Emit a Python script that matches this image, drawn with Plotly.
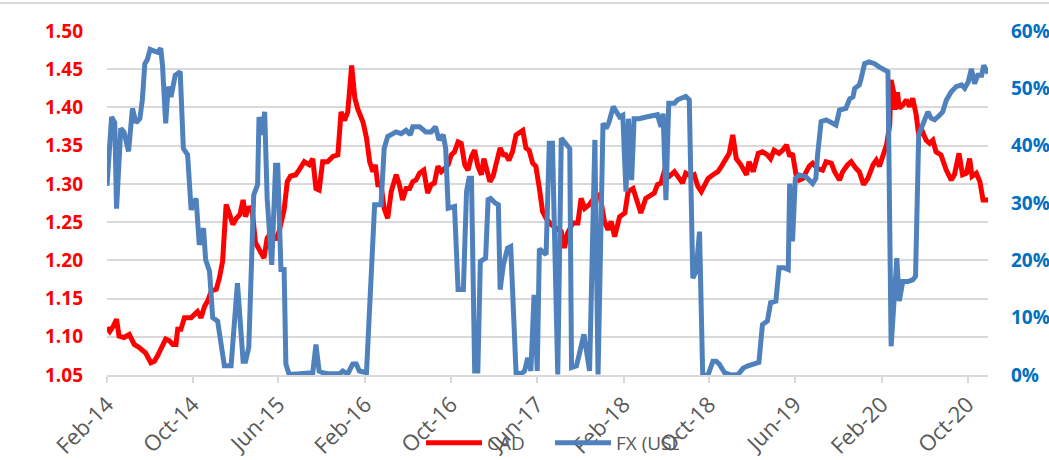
import plotly.graph_objects as go

# ---------------- data ----------------
cad_dates = [
    "2014-02-01","2014-02-09","2014-02-19","2014-02-28","2014-03-07","2014-03-21","2014-04-05","2014-04-19",
    "2014-05-03","2014-05-12","2014-05-21","2014-06-05","2014-06-15","2014-06-24","2014-07-08","2014-07-17",
    "2014-07-27","2014-08-06","2014-08-15","2014-08-20","2014-08-29","2014-09-08","2014-09-27","2014-10-06",
    "2014-10-15","2014-10-25","2014-11-04","2014-11-13","2014-11-23","2014-12-07","2014-12-16","2014-12-25",
    "2015-01-04","2015-01-14","2015-01-23","2015-02-02","2015-02-12","2015-02-21","2015-02-28","2015-03-09",
    "2015-03-19","2015-03-28","2015-04-07","2015-04-21","2015-04-30","2015-05-10","2015-05-24","2015-06-03",
    "2015-06-17","2015-06-26","2015-07-05","2015-07-20","2015-07-29","2015-08-13","2015-08-27","2015-09-06",
    "2015-09-15","2015-09-24","2015-10-04","2015-10-18","2015-11-02","2015-11-16","2015-11-25","2015-12-05",
    "2015-12-14","2015-12-25","2016-01-03","2016-01-12","2016-01-26","2016-02-05","2016-02-14","2016-02-23",
    "2016-03-01","2016-03-08","2016-03-17","2016-03-26","2016-04-05","2016-04-15","2016-04-29","2016-05-08",
    "2016-05-17","2016-05-27","2016-06-06","2016-06-15","2016-06-24","2016-07-04","2016-07-16","2016-07-27",
    "2016-08-06","2016-08-15","2016-08-25","2016-09-04","2016-09-13","2016-09-23","2016-10-02","2016-10-11",
    "2016-10-21","2016-10-30","2016-11-09","2016-11-18","2016-11-28","2016-12-07","2016-12-16","2016-12-26",
    "2017-01-02","2017-01-10","2017-01-19","2017-01-28","2017-02-08","2017-02-17","2017-02-26","2017-03-05",
    "2017-03-14","2017-03-24","2017-04-03","2017-04-12","2017-04-22","2017-05-01","2017-05-10","2017-05-20",
    "2017-05-29","2017-06-08","2017-06-17","2017-06-27","2017-07-11","2017-07-25","2017-08-09","2017-08-18",
    "2017-08-27","2017-09-11","2017-09-25","2017-10-04","2017-10-14","2017-10-28","2017-11-12","2017-11-26",
    "2017-12-09","2017-12-19","2017-12-28","2018-01-07","2018-01-21","2018-02-05","2018-02-14","2018-02-28",
    "2018-03-12","2018-03-22","2018-04-05","2018-04-20","2018-04-29","2018-05-08","2018-05-18","2018-05-27",
    "2018-06-11","2018-06-25","2018-07-09","2018-07-18","2018-07-27","2018-08-11","2018-08-20","2018-08-30",
    "2018-09-09","2018-09-18","2018-09-28","2018-10-12","2018-10-26","2018-11-05","2018-11-19","2018-11-27",
    "2018-12-07","2018-12-17","2018-12-30","2019-01-15","2019-01-22","2019-02-03","2019-02-17","2019-03-01",
    "2019-03-15","2019-03-24","2019-04-03","2019-04-17","2019-04-27","2019-05-08","2019-05-17","2019-05-25",
    "2019-06-04","2019-06-13","2019-06-23","2019-07-02","2019-07-11","2019-07-21","2019-08-04","2019-08-18",
    "2019-08-28","2019-09-12","2019-09-21","2019-10-05","2019-10-14","2019-10-28","2019-11-07","2019-11-21",
    "2019-11-30","2019-12-12","2019-12-24","2020-01-08","2020-01-17","2020-01-26","2020-02-05","2020-02-15",
    "2020-02-24","2020-02-28","2020-03-06","2020-03-11","2020-03-17","2020-03-22","2020-04-01","2020-04-11",
    "2020-04-20","2020-04-29","2020-05-09","2020-05-16","2020-05-27","2020-06-06","2020-06-16","2020-06-25",
    "2020-07-04","2020-07-18","2020-08-02","2020-08-16","2020-08-25","2020-09-07","2020-09-17","2020-09-28",
    "2020-10-07","2020-10-14","2020-10-26","2020-11-05","2020-11-14","2020-11-28",
]
cad_values = [
    1.112,1.107,1.114,1.123,1.101,1.099,1.103,1.090,
    1.086,1.083,1.079,1.066,1.068,1.075,1.090,1.097,
    1.095,1.090,1.090,1.110,1.110,1.125,1.125,1.129,
    1.133,1.125,1.140,1.147,1.160,1.162,1.177,1.199,
    1.273,1.260,1.247,1.255,1.260,1.279,1.257,1.270,
    1.264,1.223,1.214,1.203,1.229,1.236,1.227,1.238,
    1.266,1.303,1.310,1.312,1.318,1.329,1.325,1.333,
    1.294,1.292,1.329,1.329,1.336,1.338,1.394,1.383,
    1.394,1.455,1.412,1.397,1.381,1.360,1.329,1.316,
    1.325,1.299,1.299,1.268,1.255,1.290,1.312,1.299,
    1.279,1.294,1.294,1.303,1.305,1.314,1.318,1.288,
    1.299,1.301,1.323,1.316,1.320,1.325,1.338,1.342,
    1.355,1.353,1.325,1.318,1.336,1.344,1.323,1.312,
    1.333,1.316,1.303,1.310,1.329,1.347,1.338,1.338,
    1.331,1.342,1.364,1.366,1.370,1.347,1.344,1.327,
    1.323,1.294,1.264,1.255,1.247,1.242,1.238,1.216,
    1.236,1.249,1.249,1.281,1.268,1.273,1.283,1.286,
    1.251,1.240,1.251,1.231,1.257,1.262,1.290,1.294,
    1.277,1.262,1.281,1.286,1.288,1.299,1.301,1.316,
    1.310,1.316,1.305,1.301,1.314,1.310,1.312,1.297,
    1.290,1.299,1.307,1.312,1.316,1.323,1.333,1.340,
    1.364,1.333,1.325,1.312,1.329,1.316,1.340,1.342,
    1.338,1.333,1.344,1.340,1.344,1.351,1.336,1.340,
    1.312,1.305,1.307,1.316,1.323,1.327,1.320,1.318,
    1.329,1.327,1.316,1.305,1.316,1.325,1.329,1.320,
    1.316,1.299,1.307,1.325,1.331,1.323,1.336,1.351,
    1.377,1.436,1.420,1.397,1.420,1.399,1.403,1.410,
    1.401,1.412,1.390,1.364,1.368,1.357,1.353,1.357,
    1.342,1.338,1.318,1.305,1.312,1.340,1.312,1.314,
    1.333,1.310,1.314,1.303,1.279,1.279,
]

fx_dates = [
    "2014-02-01","2014-02-14","2014-02-23","2014-02-28","2014-03-12","2014-03-21","2014-04-03","2014-04-14",
    "2014-04-24","2014-05-05","2014-05-12","2014-05-19","2014-05-26","2014-06-03","2014-06-15","2014-06-24",
    "2014-07-03","2014-07-08","2014-07-17","2014-07-24","2014-08-01","2014-08-13","2014-08-27","2014-09-05",
    "2014-09-17","2014-09-27","2014-10-11","2014-10-20","2014-11-01","2014-11-07","2014-11-18","2014-11-27",
    "2014-12-11","2014-12-18","2014-12-30","2015-01-18","2015-02-05","2015-02-21","2015-02-28","2015-03-09",
    "2015-03-23","2015-04-03","2015-04-07","2015-04-17","2015-04-23","2015-04-30","2015-05-13","2015-05-24",
    "2015-05-30","2015-06-08","2015-06-17","2015-06-22","2015-07-01","2015-07-29","2015-09-06","2015-09-15",
    "2015-09-24","2015-10-04","2015-10-23","2015-11-21","2015-11-30","2015-12-14","2015-12-28","2016-01-07",
    "2016-01-16","2016-02-05","2016-02-14","2016-02-19","2016-02-28","2016-03-17","2016-03-26","2016-04-05",
    "2016-04-29","2016-05-13","2016-05-27","2016-06-08","2016-06-15","2016-07-04","2016-07-22","2016-08-06",
    "2016-08-18","2016-08-28","2016-09-09","2016-09-16","2016-09-23","2016-10-11","2016-10-21","2016-11-05",
    "2016-11-14","2016-11-21","2016-11-28","2016-12-07","2016-12-16","2016-12-23","2017-01-07","2017-01-14",
    "2017-01-21","2017-02-03","2017-02-12","2017-02-17","2017-02-26","2017-03-10","2017-03-19","2017-04-03",
    "2017-04-17","2017-04-27","2017-05-06","2017-05-15","2017-05-24","2017-06-02","2017-06-08","2017-06-27",
    "2017-07-06","2017-07-15","2017-07-30","2017-08-09","2017-09-02","2017-09-07","2017-09-21","2017-09-30",
    "2017-10-12","2017-10-28","2017-11-12","2017-11-21","2017-12-05","2017-12-14","2017-12-22","2018-01-03",
    "2018-01-21","2018-01-30","2018-02-08","2018-02-15","2018-02-24","2018-03-03","2018-03-17","2018-04-06",
    "2018-04-24","2018-05-08","2018-05-18","2018-05-24","2018-06-01","2018-06-09","2018-06-25","2018-07-04",
    "2018-07-27","2018-08-06","2018-08-16","2018-08-25","2018-09-04","2018-09-13","2018-09-28","2018-10-12",
    "2018-10-21","2018-10-30","2018-11-14","2018-12-03","2018-12-22","2019-01-06","2019-01-19","2019-02-04",
    "2019-02-19","2019-03-01","2019-03-15","2019-03-24","2019-04-08","2019-04-17","2019-05-01","2019-05-13",
    "2019-05-17","2019-05-25","2019-06-02","2019-06-13","2019-07-02","2019-07-21","2019-07-30","2019-08-04",
    "2019-08-14","2019-08-28","2019-09-12","2019-09-25","2019-10-05","2019-10-23","2019-11-03","2019-11-12",
    "2019-11-17","2019-11-30","2019-12-05","2019-12-15","2019-12-28","2020-01-12","2020-01-26","2020-02-10",
    "2020-02-19","2020-02-28","2020-03-08","2020-03-15","2020-03-22","2020-04-01","2020-04-15","2020-04-29",
    "2020-05-07","2020-05-16","2020-05-27","2020-06-06","2020-06-11","2020-06-20","2020-06-30","2020-07-14",
    "2020-07-23","2020-08-02","2020-08-16","2020-08-30","2020-09-14","2020-09-23","2020-10-03","2020-10-12",
    "2020-10-21","2020-10-30","2020-11-10","2020-11-16","2020-11-28",
]
fx_values = [
    33.0,45.0,44.0,29.0,43.0,42.4,39.0,46.5,
    44.0,44.7,48.0,54.3,55.0,56.8,56.5,56.3,
    57.0,54.0,43.9,50.3,48.5,52.3,52.9,39.5,
    38.4,28.8,30.8,22.7,25.6,20.1,18.1,10.0,
    9.4,6.5,1.6,1.6,16.0,2.4,2.4,4.8,
    31.4,33.2,45.0,41.9,45.9,30.8,19.2,36.6,
    36.6,18.4,18.4,1.9,0.1,0.2,0.4,5.3,
    0.7,0.4,0.2,0.2,0.7,0.2,1.9,1.9,
    0.7,0.4,11.7,21.0,29.7,29.7,39.5,41.6,
    42.4,42.1,42.7,41.9,43.3,43.3,42.4,42.4,
    43.3,41.0,41.9,39.5,29.1,29.4,14.9,14.9,
    32.0,34.3,34.3,0.7,0.7,19.8,20.4,30.6,
    30.8,30.0,29.7,14.9,19.2,22.1,22.4,0.4,
    0.2,0.7,3.0,0.7,14.0,0.7,22.0,21.0,
    40.4,40.4,0.1,41.3,39.5,1.3,1.6,3.9,
    7.1,0.7,41.0,0.1,43.9,43.0,44.1,46.8,
    45.0,45.3,32.0,44.7,34.0,44.7,44.7,45.0,
    45.3,45.4,43.3,45.6,30.5,47.4,47.4,48.0,
    48.6,48.0,16.9,18.0,25.0,0.0,0.0,2.4,
    2.4,1.9,0.4,0.0,0.1,1.2,1.6,1.9,
    2.2,8.8,9.4,12.6,12.9,18.7,18.7,18.4,
    33.4,23.3,34.3,34.9,34.6,33.4,34.3,38.4,
    44.2,44.5,43.9,43.6,46.2,46.5,48.2,48.5,
    50.0,50.6,51.7,54.3,54.6,54.3,53.7,53.2,
    52.9,5.0,12.9,20.4,12.9,16.3,16.3,16.6,
    17.2,41.9,43.6,45.6,45.9,44.8,44.5,45.3,
    45.9,47.9,49.4,50.3,50.6,50.0,51.1,53.4,
    50.8,52.3,52.3,54.0,52.6,
]

tick_dates = ["2014-02-01","2014-10-01","2015-06-01","2016-02-01","2016-10-01",
              "2017-06-01","2018-02-01","2018-10-01","2019-06-01","2020-02-01","2020-10-01"]
tick_labels = ["Feb-14","Oct-14","Jun-15","Feb-16","Oct-16",
               "Jun-17","Feb-18","Oct-18","Jun-19","Feb-20","Oct-20"]

cad_ticks = [1.05, 1.10, 1.15, 1.20, 1.25, 1.30, 1.35, 1.40, 1.45, 1.50]
fx_ticks = [0, 10, 20, 30, 40, 50, 60]
fx_tick_labels = ["0%", "10%", "20%", "30%", "40%", "50%", "60%"]

# ---------------- figure ----------------
W, H = 1049, 460
ML, MR, MT, MB = 107, 61, 31, 85
PW, PH = W - ML - MR, H - MT - MB

fig = go.Figure()
fig.add_trace(go.Scatter(
    x=cad_dates, y=cad_values, name="CAD", mode="lines",
    line=dict(color="#FF0000", width=5), yaxis="y"))
fig.add_trace(go.Scatter(
    x=fx_dates, y=fx_values, name="FX (USD)", mode="lines",
    line=dict(color="#4F81BD", width=5), yaxis="y2"))

fig.update_layout(
    width=W, height=H,
    margin=dict(l=ML, r=MR, t=MT, b=MB, pad=0, autoexpand=False),
    paper_bgcolor="white", plot_bgcolor="white",
    font=dict(family="Open Sans, Liberation Sans, sans-serif", color="#595959"),
    showlegend=True,
    legend=dict(orientation="h", x=(421 - ML) / PW, xanchor="left",
                y=(MT + PH - 443) / PH, yanchor="middle",
                bgcolor="rgba(0,0,0,0)",
                font=dict(family="Open Sans", size=19, color="#595959"),
                itemwidth=56, entrywidth=58, entrywidthmode="pixels",
                tracegroupgap=0),
    xaxis=dict(
        type="date", range=[cad_dates[0], cad_dates[-1]],
        tickmode="array", tickvals=tick_dates, ticktext=tick_labels,
        tickangle=-45, tickfont=dict(family="Open Sans", size=22, color="#595959"),
        showgrid=False, zeroline=False,
        showline=True, linecolor="#D9D9D9", linewidth=2,
        ticks="outside", ticklen=6, tickwidth=2, tickcolor="#D9D9D9",
        automargin=False),
    yaxis=dict(
        range=[1.05, 1.50], tickmode="array", tickvals=cad_ticks, tickformat=".2f",
        tickfont=dict(family="Open Sans", size=19, color="#FF0000", weight="bold"),
        showgrid=True, gridcolor="#D9D9D9", gridwidth=2,
        zeroline=False, showline=False, ticks="", ticklabelstandoff=23,
        automargin=False),
    yaxis2=dict(
        overlaying="y", side="right", range=[0, 60],
        tickmode="array", tickvals=fx_ticks, ticktext=fx_tick_labels,
        tickfont=dict(family="Open Sans", size=19, color="#0070C0", weight="bold"),
        showgrid=False, zeroline=False, showline=False, ticks="", ticklabelstandoff=22,
        automargin=False),
    shapes=[dict(type="line", xref="paper", yref="paper",
                 x0=-ML / PW, x1=(W - ML) / PW, y0=(MT + PH - 3) / PH, y1=(MT + PH - 3) / PH,
                 line=dict(color="#D9D9D9", width=2))],
)

fig.write_html(
    "out.html",
    config={"displayModeBar": False},
    post_script="document.body.style.margin='0';document.body.style.overflow='hidden';",
)
